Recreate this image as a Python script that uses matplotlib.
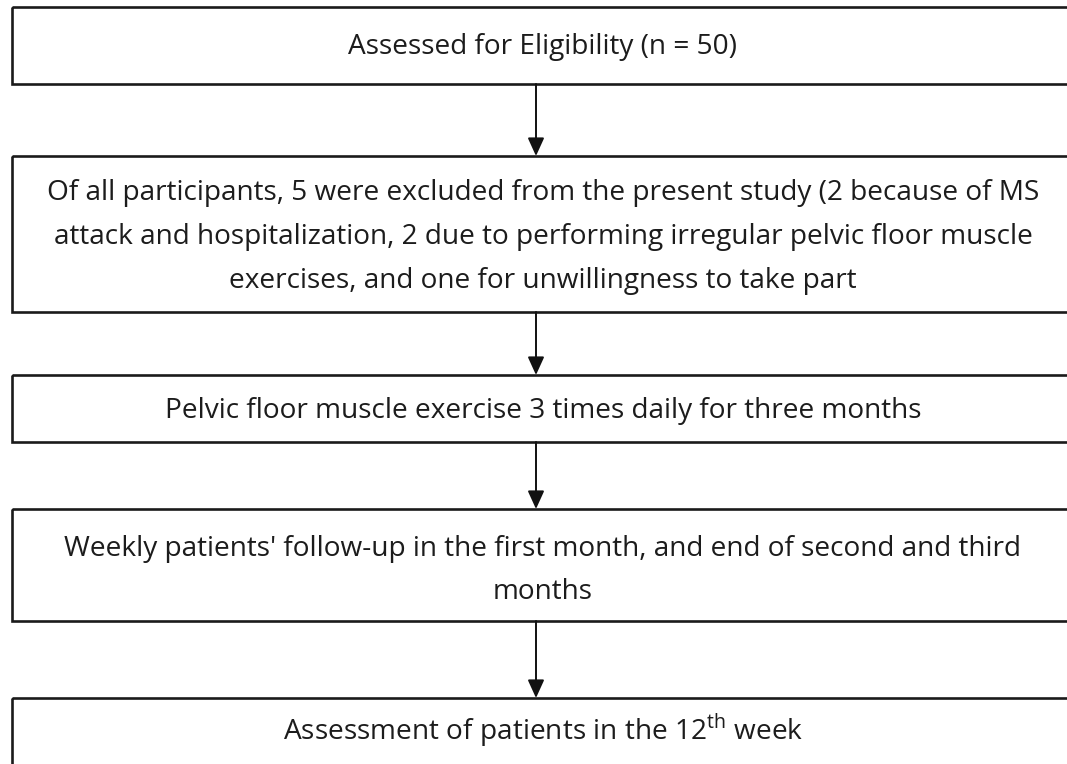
import matplotlib
matplotlib.use('Agg')
import matplotlib.pyplot as plt
from matplotlib.patches import Rectangle

plt.rcParams['font.family'] = ['Open Sans', 'DejaVu Sans']
plt.rcParams['mathtext.fontset'] = 'custom'
plt.rcParams['mathtext.rm'] = 'Open Sans'

# box texts, top to bottom
box_lines = [
    ["Assessed for Eligibility (n = 50)"],
    ["Of all participants, 5 were excluded from the present study (2 because of MS",
     "attack and hospitalization, 2 due to performing irregular pelvic floor muscle",
     "exercises, and one for unwillingness to take part"],
    ["Pelvic floor muscle exercise 3 times daily for three months"],
    ["Weekly patients' follow-up in the first month, and end of second and third",
     "months"],
    [r"Assessment of patients in the 12$^{\mathrm{th}}$ week"],
]

# layout in pixels (top, bottom) of each box
box_top = [7, 156, 375, 509, 698]
box_bot = [84, 312, 442, 621, 775]
line_y = [[47], [193, 237, 281], [411], [549, 592], [730]]

W, H = 1067, 764
fig = plt.figure(figsize=(W / 100, H / 100), dpi=100)
ax = fig.add_axes([0, 0, 1, 1])
ax.set_xlim(0, W)
ax.set_ylim(H, 0)
ax.axis('off')

left, right = 11.5, 1075
xc = 543
ax_x = 536

for i in range(len(box_lines)):
    ax.add_patch(Rectangle((left, box_top[i]), right - left, box_bot[i] - box_top[i],
                           fill=False, ec='#1a1a1a', lw=1.9))
    for txt, y in zip(box_lines[i], line_y[i]):
        ax.text(xc, y, txt, ha='center', va='center', fontsize=20.2, color='#1c1c1c')
    if i < len(box_lines) - 1:
        ax.annotate('', xy=(ax_x, box_top[i + 1]), xytext=(ax_x, box_bot[i]),
                    arrowprops=dict(arrowstyle='-|>,head_length=1.1,head_width=0.5',
                                    color='#111111', lw=1.4, shrinkA=0, shrinkB=0))

fig.savefig('out.png', dpi=100)
